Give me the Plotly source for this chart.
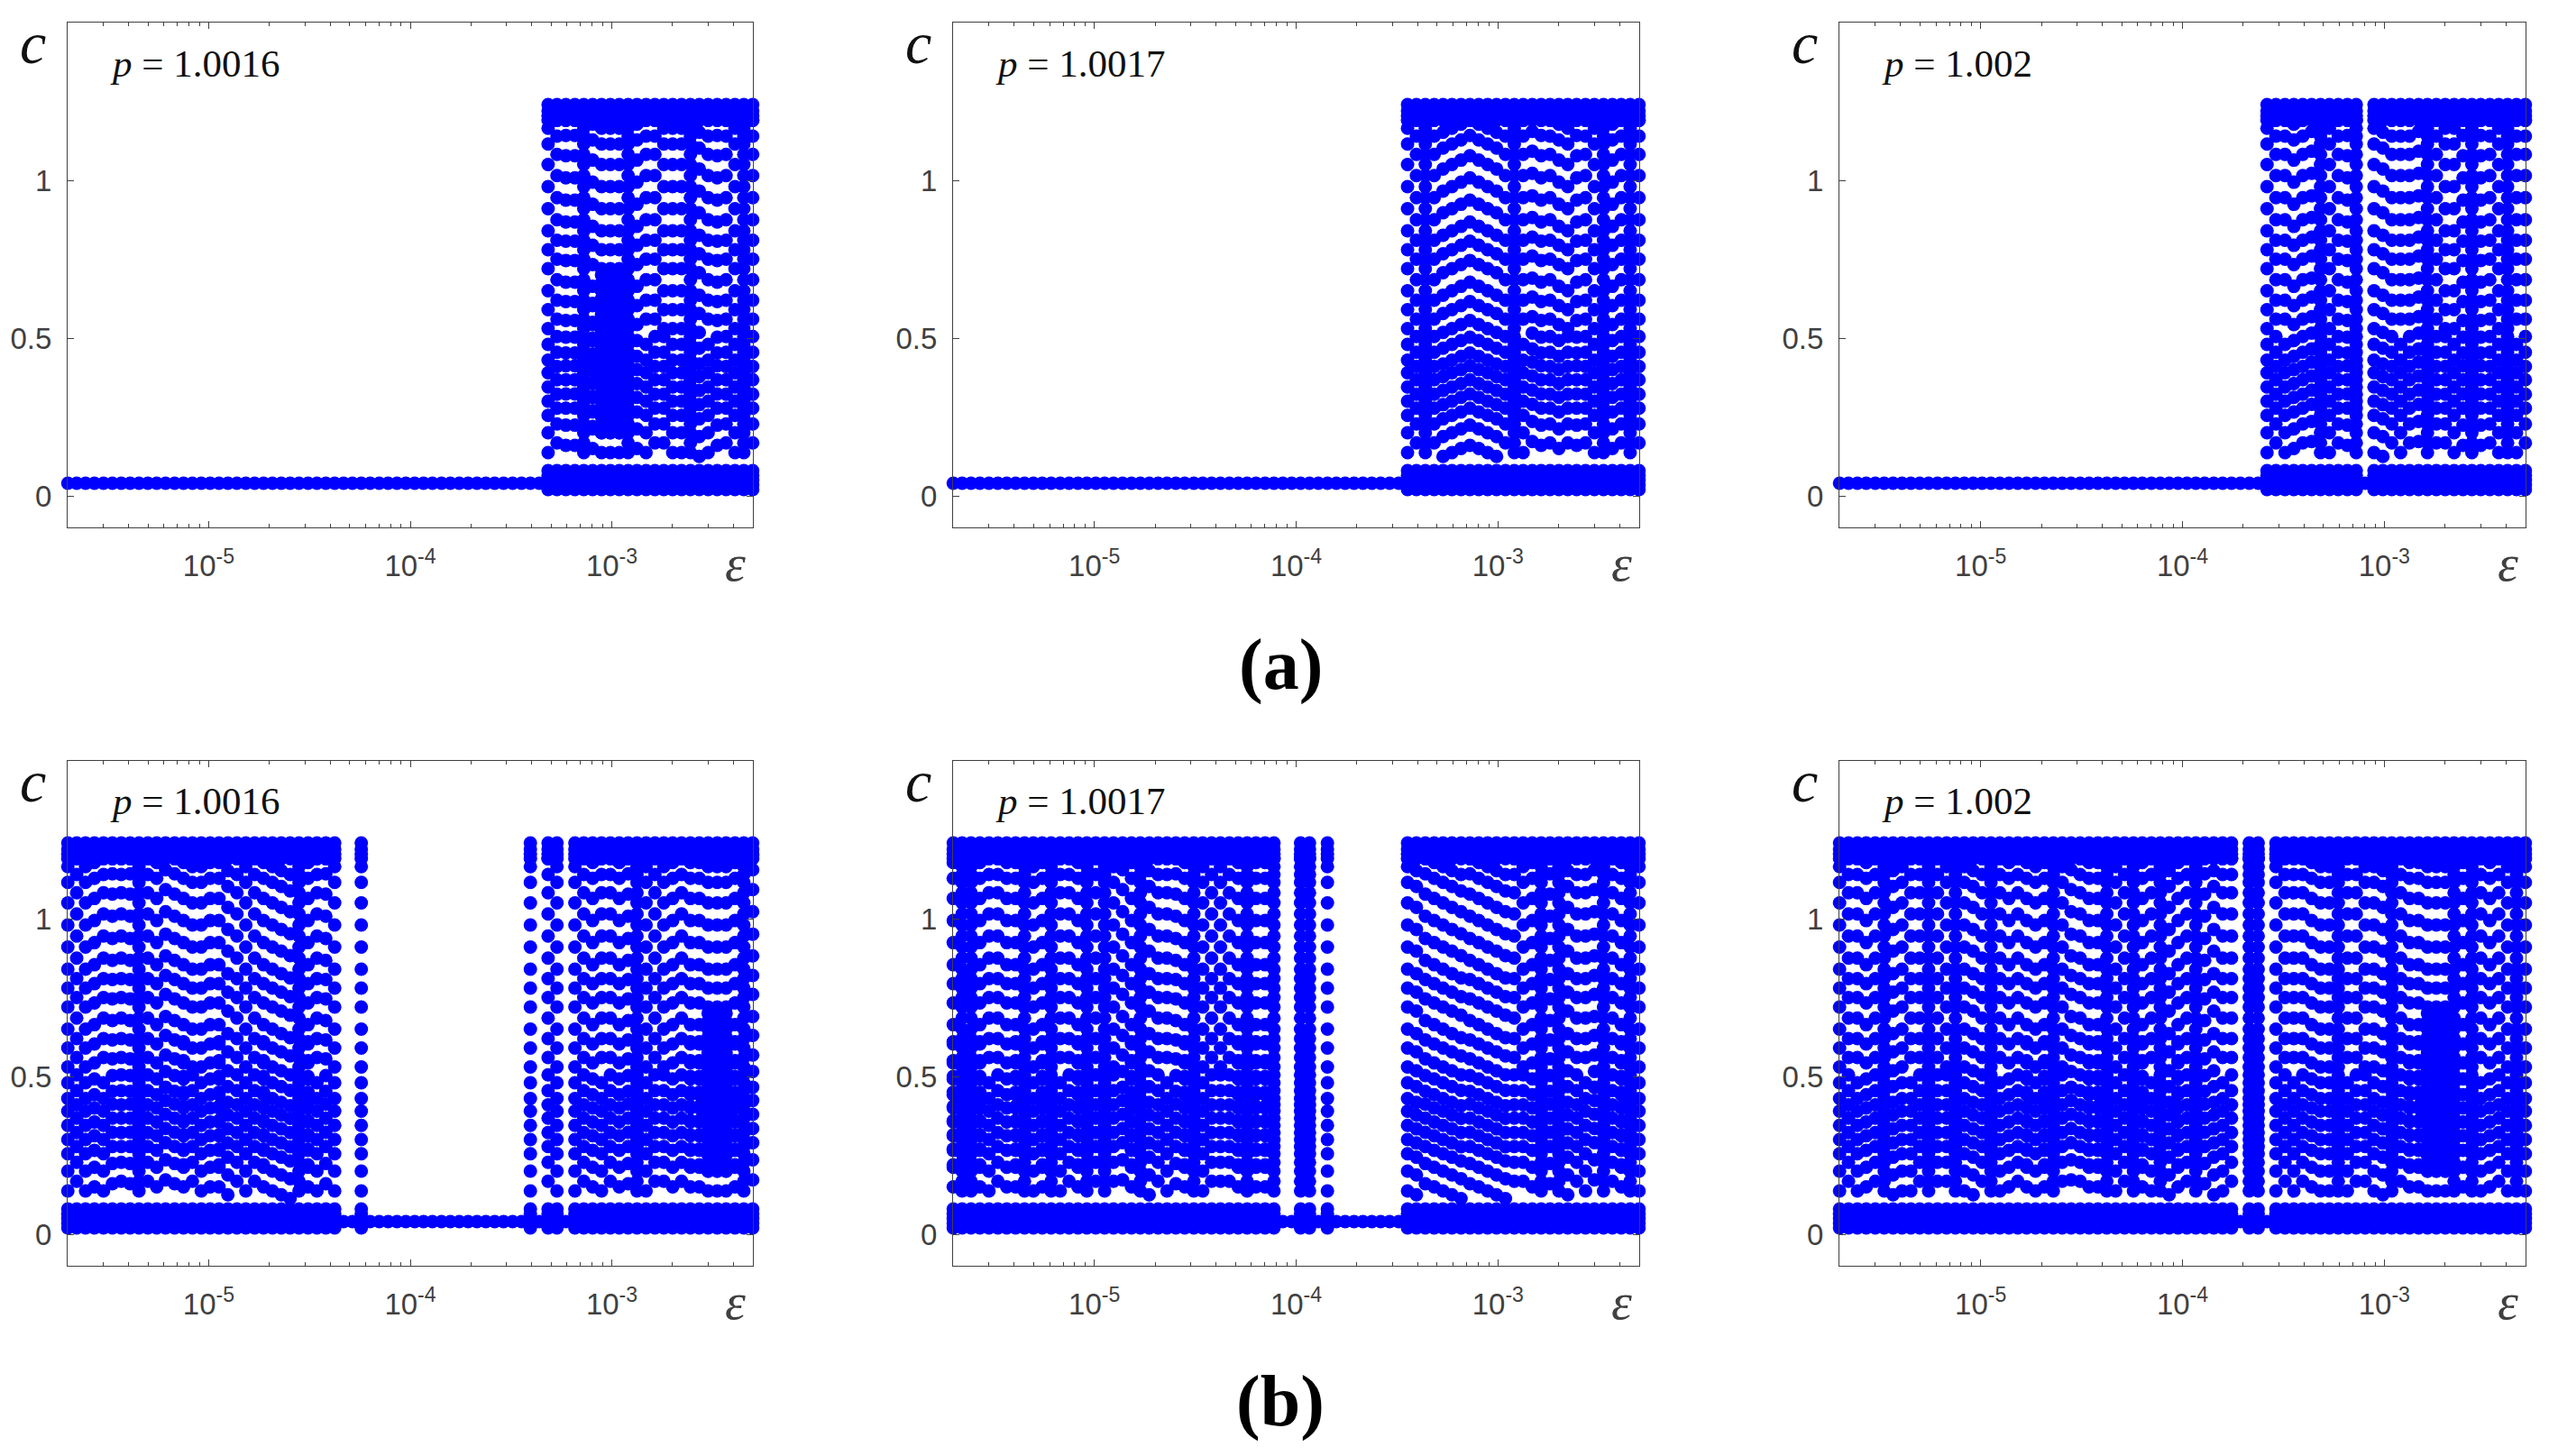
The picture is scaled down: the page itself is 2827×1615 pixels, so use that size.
import plotly.graph_objects as go

W, H = 2827, 1615
COLS = [(75, 835), (1057, 1818), (2040, 2801)]
ROWS = [(25, 585), (844, 1404)]

LOG_EPS = [-5.699, -5.655, -5.611, -5.567, -5.522, -5.478, -5.434, -5.390, -5.346, -5.302,
           -5.258, -5.214, -5.169, -5.125, -5.081, -5.037, -4.993, -4.949, -4.905, -4.860,
           -4.816, -4.772, -4.728, -4.684, -4.640, -4.596, -4.552, -4.507, -4.463, -4.419,
           -4.375, -4.331, -4.287, -4.243, -4.199, -4.154, -4.110, -4.066, -4.022, -3.978,
           -3.934, -3.890, -3.845, -3.801, -3.757, -3.713, -3.669, -3.625, -3.581, -3.537,
           -3.492, -3.448, -3.404, -3.360, -3.316, -3.272, -3.228, -3.183, -3.139, -3.095,
           -3.051, -3.007, -2.963, -2.919, -2.875, -2.830, -2.786, -2.742, -2.698, -2.654,
           -2.610, -2.566, -2.522, -2.477, -2.433, -2.389, -2.345, -2.301]

BASE = [0.04]
BAND_LOW = [0.02, 0.035, 0.05, 0.065, 0.08]
BAND_TOP = [1.19, 1.205, 1.22, 1.24]

A = [.137, .20, .255, .30, .345, .39, .43, .48, .53, .59, .65, .72, .78, .84, .91, .98, 1.05, 1.115, 1.165]
B = [.15, .212, .266, .312, .356, .40, .442, .492, .543, .603, .664, .733, .794, .854, .924, .994, 1.064, 1.128, 1.178]
C = [.16, .224, .278, .323, .368, .412, .453, .503, .556, .616, .677, .746, .807, .868, .937, 1.008, 1.078, 1.142, 1.19]
D = [.172, .236, .29, .335, .38, .424, .466, .516, .568, .63, .69, .76, .82, .882, .951, 1.022, 1.092, 1.155, 1.2]
E = [.125, .188, .244, .289, .334, .378, .418, .468, .518, .578, .636, .707, .767, .826, .897, .966, 1.036, 1.102, 1.152]
F = [.113, .176, .232, .277, .322, .367, .407, .456, .505, .565, .623, .694, .753, .812, .883, .952, 1.022, 1.088, 1.14]
G = [.168, .228, .278, .322, .368, .41, .455, .505, .56, .62, .685, .75, .81, .875, .945, 1.015, 1.082, 1.14, 1.19]
K = [.137, .20, .255, .30, .345, .39, .43, .48, .56, .62, .685, .75, .81, .875, .945, 1.015, 1.082, 1.14, 1.19]
M = [.168, .228, .278, .322, .368, .41, .455, .505, .53, .59, .65, .72, .78, .84, .91, .98, 1.05, 1.115, 1.165]
FILL_LOW = [.22, .27, .315, .36, .405, .45, .50, .55, .61]
FILL_DEEP = [.2, .225, .25, .275, .30, .325, .35, .375, .40, .425, .45, .475, .50, .525, .55, .575, .60, .625, .65, .675, .70]

PROFILES = {
    "a": A, "b": B, "c": C, "d": D, "e": E, "f": F, "g": G, "k": K, "m": M,
    "x": A + G,
    "z": B + FILL_LOW,
    "Z": A + FILL_DEEP,
}

A1 = "." * 54 + "agccxzZZZxbkgmaaxekcgaxg"
A2 = "." * 51 + "agxgeabcbaegxkdcgbmcgaxbgxg"
A3 = "." * 48 + "agkbgdxagcx" + "." + "aegkgdxgmacxcgaxkg"
B1 = "agabkcgcxgbdczmabzegagzaefxzkca" + ".." + "a" + "." * 18 + "a" + "." + "ga" + "." + "agbkgbcxagmbgzzZZZzxd"
B2 = "zxxzkgbzxazxkgzxgxmdzxegkczxagmgzxzzx" + ".." + "xx" + "." + "a" + "." * 8 + "ae" + "cbaefcbaefgmbxcxegkdxgzxa"
B3 = "agkbgxeakgxgmxaegxkbgzazxmdgzzxagxzkxezgxcekg" + "." + "xx" + "." + "agkgba" + "axkgmaexgzzZZZxbxkbgaxa"

PANELS = [A1, A2, A3, B1, B2, B3]
P_LABELS = ["1.0016", "1.0017", "1.002", "1.0016", "1.0017", "1.002"]
X_TICKS = [1e-5, 1e-4, 1e-3]
X_TICK_TEXT = ["10<sup>-5</sup>", "10<sup>-4</sup>", "10<sup>-3</sup>"]
Y_TICKS = [0, 0.5, 1]
Y_TICK_TEXT = ["0", "0.5", "1"]

INK = "#404040"
TICK_FONT = dict(family="Liberation Sans", size=33, color=INK)

fig = go.Figure()
layout = {}
notes = []
for n, seq in enumerate(PANELS):
    assert len(seq) == len(LOG_EPS), (n, len(seq))
    xs, ys = [], []
    for e, ch in zip(LOG_EPS, seq):
        vals = BASE if ch == "." else BAND_LOW + PROFILES[ch] + BAND_TOP
        for v in vals:
            xs.append(10 ** e)
            ys.append(v)
    sfx = "" if n == 0 else str(n + 1)
    fig.add_trace(go.Scatter(x=xs, y=ys, mode="markers", xaxis="x" + sfx, yaxis="y" + sfx,
                             cliponaxis=False, showlegend=False,
                             marker=dict(color="#0000ff", size=15, line=dict(width=0))))
    (x0, x1) = COLS[n % 3]
    (y0, y1) = ROWS[n // 3]
    layout["xaxis" + sfx] = dict(
        type="log", range=[-5.7, -2.3], domain=[x0 / W, x1 / W], anchor="y" + sfx,
        tickmode="array", tickvals=X_TICKS, ticktext=X_TICK_TEXT,
        ticks="inside", ticklen=7, tickwidth=1, tickcolor=INK, tickfont=TICK_FONT,
        ticklabelstandoff=13,
        minor=dict(ticks="inside", ticklen=4, tickwidth=1, tickcolor=INK, dtick="D1"),
        showgrid=False, zeroline=False, showline=True, linecolor=INK, linewidth=1, mirror="ticks")
    layout["yaxis" + sfx] = dict(
        range=[-0.1, 1.5], domain=[1 - y1 / H, 1 - y0 / H], anchor="x" + sfx,
        tickmode="array", tickvals=Y_TICKS, ticktext=Y_TICK_TEXT,
        ticks="inside", ticklen=7, tickwidth=1, tickcolor=INK, tickfont=TICK_FONT,
        ticklabelstandoff=10,
        showgrid=False, zeroline=False, showline=True, linecolor=INK, linewidth=1, mirror="ticks")
    def note(text, px, py, size, anchor="center", family="Liberation Serif", color="#111111"):
        notes.append(dict(text=text, x=px / W, y=1 - py / H, xref="paper", yref="paper",
                          xanchor=anchor, yanchor="middle", showarrow=False,
                          font=dict(family=family, size=size, color=color)))
    note("<i>c</i>", x0 - 39, y0 + 22, 66)
    note("<i>ε</i>", x1 - 20, y1 + 39, 58, color=INK)
    note("<i>p</i> = " + P_LABELS[n], x0 + 45, y0 + 45, 43, anchor="left")

for label, py in (("<b>(a)</b>", 737), ("<b>(b)</b>", 1554)):
    notes.append(dict(text=label, x=1420 / W, y=1 - py / H, xref="paper", yref="paper",
                      xanchor="center", yanchor="middle", showarrow=False,
                      font=dict(family="Liberation Serif", size=80, color="#000000")))

fig.update_layout(width=W, height=H, margin=dict(l=0, r=0, t=0, b=0),
                  paper_bgcolor="white", plot_bgcolor="white", annotations=notes, **layout)
fig.write_html("out.html", post_script="document.body.style.margin='0';",
               config=dict(displayModeBar=False))
